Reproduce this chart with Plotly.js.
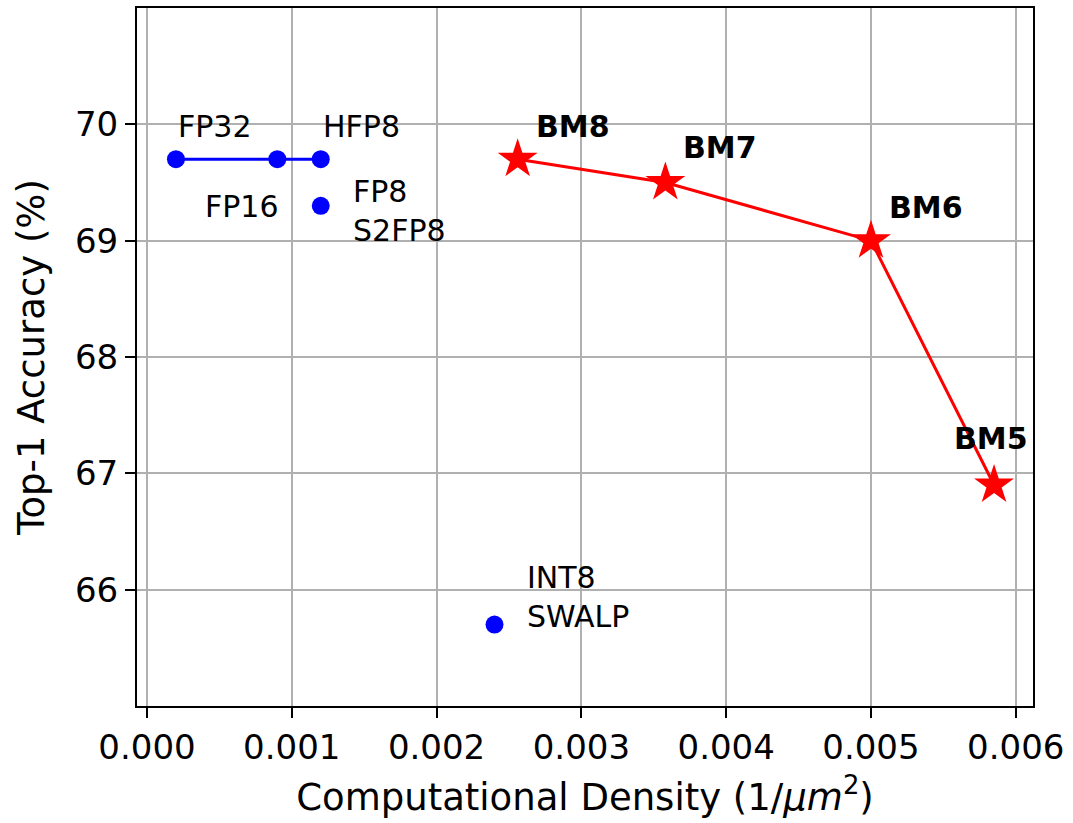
<!DOCTYPE html>
<html>
<head>
<meta charset="utf-8">
<script src="https://cdn.plot.ly/plotly-3.0.1.min.js"></script>
<style>html,body{margin:0;padding:0;background:#fff;}#chart{width:1073px;height:823px;}</style>
</head>
<body>
<div id="chart"></div>
<script>
// Blue (baseline formats) connected line
const floatX = [0.0002, 0.0009, 0.0012];
const floatY = [69.7, 69.7, 69.7];
const floatLabels = ["FP32", "FP16", "HFP8"];
// Blue isolated points
const otherX = [0.0012, 0.0024];
const otherY = [69.3, 65.7];
const otherLabels = ["FP8<br>S2FP8", "INT8<br>SWALP"];
// Red BM series
const bmX = [0.00256, 0.00358, 0.0050, 0.00585];
const bmY = [69.7, 69.5, 69.0, 66.9];
const bmLabels = ["BM8", "BM7", "BM6", "BM5"];
const yTicks = [66, 67, 68, 69, 70];
const xTicks = [0, 0.001, 0.002, 0.003, 0.004, 0.005, 0.006];
const xTickText = ["0.000", "0.001", "0.002", "0.003", "0.004", "0.005", "0.006"];

const FONT = "DejaVu Sans";

const traces = [
  {x: floatX, y: floatY, mode: "lines+markers", type: "scatter",
   line: {color: "#0000ff", width: 3}, marker: {color: "#0000ff", size: 18, symbol: "circle"}},
  {x: otherX, y: otherY, mode: "markers", type: "scatter",
   marker: {color: "#0000ff", size: 18, symbol: "circle"}},
  {x: bmX, y: bmY, mode: "lines+markers", type: "scatter",
   line: {color: "#ff0000", width: 3}, marker: {color: "#ff0000", size: 30, symbol: "star", line: {width: 0}}}
];

// label placement styles (pixel offsets)
const floatShift = [{xa: "left", xs: 0, ys: 33}, {xa: "right", xs: 4, ys: -47}, {xa: "left", xs: 0, ys: 33}];
const otherShift = [{xa: "left", xs: 30, ys: -5}, {xa: "left", xs: 30, ys: 28}];
const bmShift = [{xa: "left", xs: 16, ys: 33}, {xa: "left", xs: 16, ys: 35}, {xa: "left", xs: 16, ys: 33}, {xa: "left", xs: -42, ys: 46}];

const annotations = [];
function addLabels(xs, ys, labels, shifts, bold) {
  for (let i = 0; i < xs.length; i++) {
    annotations.push({
      x: xs[i], y: ys[i], xref: "x", yref: "y", showarrow: false,
      text: bold ? "<b>" + labels[i] + "</b>" : labels[i],
      xanchor: shifts[i].xa, yanchor: "middle", align: "left",
      xshift: shifts[i].xs, yshift: shifts[i].ys,
      font: {family: FONT, size: 30, color: "#000"}
    });
  }
}
addLabels(floatX, floatY, floatLabels, floatShift, false);
addLabels(otherX, otherY, otherLabels, otherShift, false);
addLabels(bmX, bmY, bmLabels, bmShift, true);

const axisCommon = {
  showline: true, linecolor: "#000", linewidth: 2, mirror: true,
  ticks: "outside", ticklen: 10, tickwidth: 2, tickcolor: "#000",
  showgrid: true, gridcolor: "#b0b0b0", gridwidth: 2, zeroline: false,
  tickfont: {family: FONT, size: 34, color: "#000"}
};

const layout = {
  width: 1073, height: 823,
  margin: {l: 137, r: 40, t: 8, b: 117},
  paper_bgcolor: "#fff", plot_bgcolor: "#fff",
  showlegend: false,
  font: {family: FONT, color: "#000"},
  xaxis: Object.assign({}, axisCommon, {
    range: [-0.000069, 0.006119], tickmode: "array", tickvals: xTicks, ticktext: xTickText,
    title: {text: "Computational Density (1/<i>μm</i><sup>2</sup>)", font: {family: FONT, size: 37, color: "#000"}, standoff: 18}
  }),
  yaxis: Object.assign({}, axisCommon, {
    range: [65.0, 71.0], tickmode: "array", tickvals: yTicks,
    title: {text: "Top-1 Accuracy (%)", font: {family: FONT, size: 37, color: "#000"}, standoff: 19}
  }),
  annotations: annotations
};

Plotly.newPlot("chart", traces, layout, {staticPlot: true, displayModeBar: false});
</script>
</body>
</html>
